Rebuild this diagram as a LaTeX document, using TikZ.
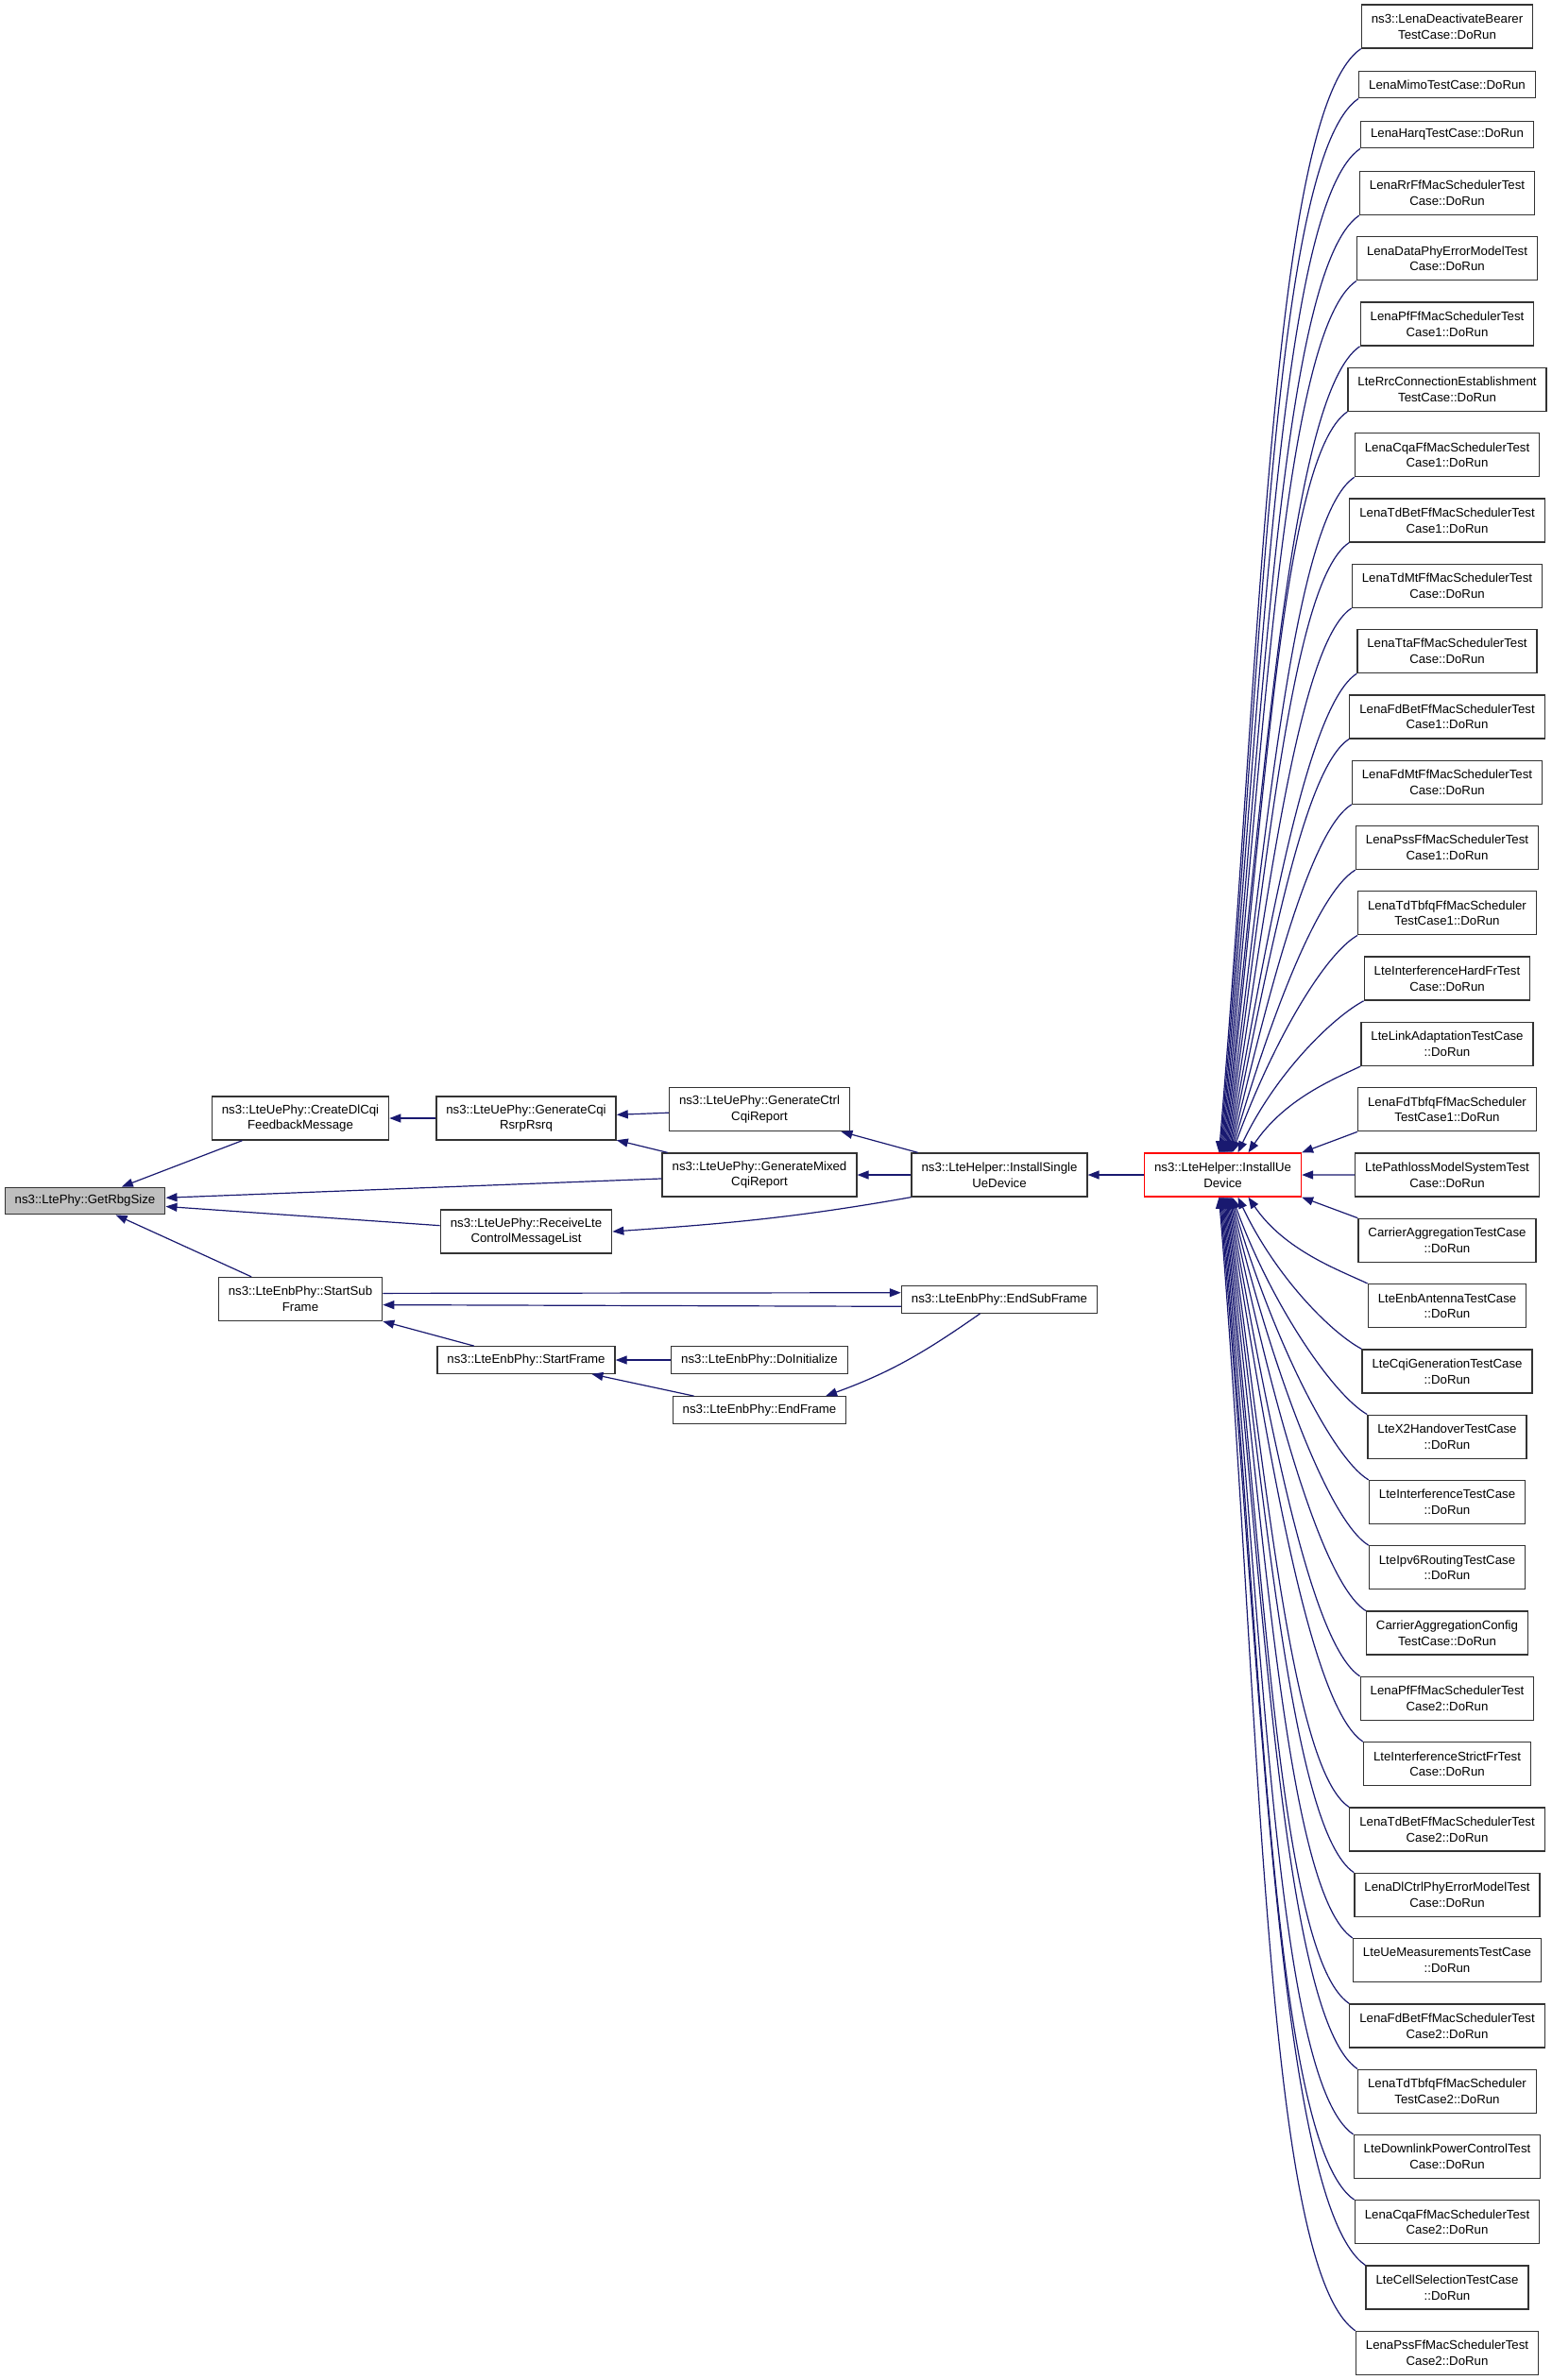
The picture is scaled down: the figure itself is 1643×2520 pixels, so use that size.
\documentclass[tikz,border=0pt]{standalone}
\usepackage{fontspec}
\setmainfont{Liberation Sans}
\usetikzlibrary{arrows.meta}
\definecolor{edgeblue}{HTML}{191970}
\tikzset{
	fn/.style={draw=black!80,line width=1.3pt,fill=white,align=center,inner xsep=10.5pt,inner ysep=2pt,minimum height=46pt,font=\fontsize{13.24pt}{16.7pt}\selectfont},
	fnone/.style={fn,minimum height=28.5pt},
	calls/.style={draw=edgeblue,line width=1.2pt,{Triangle[length=12pt,width=9pt]}-}
}
\begin{document}
\begin{tikzpicture}[x=1pt,y=1pt]
	\useasboundingbox (0,0) rectangle (1643,-2520);
	\node[fnone,fill=black!25] (rbg) at (90,-1271.5) {ns3::LtePhy::GetRbgSize};
	\node[fn] (dlcqi) at (318,-1184) {ns3::LteUePhy::CreateDlCqi\\FeedbackMessage};
	\node[fn] (rsrp) at (557,-1184) {ns3::LteUePhy::GenerateCqi\\RsrpRsrq};
	\node[fn] (recv) at (557,-1304) {ns3::LteUePhy::ReceiveLte\\ControlMessageList};
	\node[fn] (ssub) at (318,-1375.5) {ns3::LteEnbPhy::StartSub\\Frame};
	\node[fnone] (sframe) at (557,-1440) {ns3::LteEnbPhy::StartFrame};
	\node[fn] (ctrl) at (804,-1174.5) {ns3::LteUePhy::GenerateCtrl\\CqiReport};
	\node[fn] (mixed) at (804,-1244) {ns3::LteUePhy::GenerateMixed\\CqiReport};
	\node[fnone] (init) at (804,-1440) {ns3::LteEnbPhy::DoInitialize};
	\node[fnone] (eframe) at (804,-1493) {ns3::LteEnbPhy::EndFrame};
	\node[fn] (single) at (1058,-1244) {ns3::LteHelper::InstallSingle\\UeDevice};
	\node[fnone] (esub) at (1058,-1376) {ns3::LteEnbPhy::EndSubFrame};
	\node[fn,draw=red] (ue) at (1294.5,-1244) {ns3::LteHelper::InstallUe\\Device};

	\foreach \txt [count=\i] in {
		{ns3::LenaDeactivateBearer\\TestCase::DoRun},
		{LenaMimoTestCase::DoRun},
		{LenaHarqTestCase::DoRun},
		{LenaRrFfMacSchedulerTest\\Case::DoRun},
		{LenaDataPhyErrorModelTest\\Case::DoRun},
		{LenaPfFfMacSchedulerTest\\Case1::DoRun},
		{LteRrcConnectionEstablishment\\TestCase::DoRun},
		{LenaCqaFfMacSchedulerTest\\Case1::DoRun},
		{LenaTdBetFfMacSchedulerTest\\Case1::DoRun},
		{LenaTdMtFfMacSchedulerTest\\Case::DoRun},
		{LenaTtaFfMacSchedulerTest\\Case::DoRun},
		{LenaFdBetFfMacSchedulerTest\\Case1::DoRun},
		{LenaFdMtFfMacSchedulerTest\\Case::DoRun},
		{LenaPssFfMacSchedulerTest\\Case1::DoRun},
		{LenaTdTbfqFfMacScheduler\\TestCase1::DoRun},
		{LteInterferenceHardFrTest\\Case::DoRun},
		{LteLinkAdaptationTestCase\\::DoRun},
		{LenaFdTbfqFfMacScheduler\\TestCase1::DoRun},
		{LtePathlossModelSystemTest\\Case::DoRun},
		{CarrierAggregationTestCase\\::DoRun},
		{LteEnbAntennaTestCase\\::DoRun},
		{LteCqiGenerationTestCase\\::DoRun},
		{LteX2HandoverTestCase\\::DoRun},
		{LteInterferenceTestCase\\::DoRun},
		{LteIpv6RoutingTestCase\\::DoRun},
		{CarrierAggregationConfig\\TestCase::DoRun},
		{LenaPfFfMacSchedulerTest\\Case2::DoRun},
		{LteInterferenceStrictFrTest\\Case::DoRun},
		{LenaTdBetFfMacSchedulerTest\\Case2::DoRun},
		{LenaDlCtrlPhyErrorModelTest\\Case::DoRun},
		{LteUeMeasurementsTestCase\\::DoRun},
		{LenaFdBetFfMacSchedulerTest\\Case2::DoRun},
		{LenaTdTbfqFfMacScheduler\\TestCase2::DoRun},
		{LteDownlinkPowerControlTest\\Case::DoRun},
		{LenaCqaFfMacSchedulerTest\\Case2::DoRun},
		{LteCellSelectionTestCase\\::DoRun},
		{LenaPssFfMacSchedulerTest\\Case2::DoRun}}{
		\pgfmathsetmacro\ry{\i==1 ? 28 : (\i==2 ? 89.5 : (\i==3 ? 142.5 : 204.5+(\i-4)*69.3))}
		\pgfmathsetmacro\rh{(\i==2 || \i==3) ? 28.5 : 46}
		\node[fn,minimum height=\rh pt] (t\i) at (1532,-\ry) {\txt};
	}

	\draw[calls] (rbg) -- (dlcqi);
	\draw[calls] (rbg) -- (mixed);
	\draw[calls] (rbg) -- (recv);
	\draw[calls] (rbg) -- (ssub);
	\draw[calls] (dlcqi.east) -- (rsrp.west);
	\draw[calls] (rsrp) -- (ctrl);
	\draw[calls] (rsrp) -- (mixed);
	\draw[calls] (ctrl) -- (single);
	\draw[calls] (mixed.east) -- (single.west);
	\draw[calls] (recv.east) to[out=4,in=190] (single.south west);
	\draw[calls] (single.east) -- (ue.west);
	\draw[calls] (esub.176) -- (ssub.4);
	\draw[calls] (ssub.-4) -- (esub.184);
	\draw[calls] (ssub) -- (sframe);
	\draw[calls] (sframe.east) -- (init.west);
	\draw[calls] (sframe) -- (eframe);
	\draw[calls] (eframe.12) to[out=20,in=215] (esub.216);

	\foreach \i in {1,...,37}{
		\pgfmathsetmacro\ry{\i==1 ? 28 : (\i==2 ? 89.5 : (\i==3 ? 142.5 : 204.5+(\i-4)*69.3))}
		\pgfmathsetmacro\rh{(\i==2 || \i==3) ? 28.5 : 46}
		\pgfmathtruncatemacro\rd{19-\i}
		\pgfmathtruncatemacro\rk{abs(\rd)}
		\pgfmathsetmacro\rsx{\rk==2 ? 27 : (\rk==3 ? 16 : 14-\rk)}
		\pgfmathsetmacro\rgap{abs(\ry-1244)-23-\rh/2}
		\pgfmathsetmacro\rdx{147.5-\rsx}
		\pgfmathsetmacro\rch{atan(\rgap/\rdx)}
		\pgfmathsetmacro\rlen{\rgap/sin(\rch)}
		\pgfmathsetmacro\rout{\rch+0.35*(90-\rch)}
		\pgfmathsetmacro\rph{0.2*\rch+18}
		\pgfmathsetmacro\rod{0.45*\rlen}
		\pgfmathsetmacro\rid{0.08*\rlen+20}
		\pgfmathsetmacro\rax{\rod*cos(\rout)}
		\pgfmathsetmacro\ray{\rod*sin(\rout)}
		\pgfmathsetmacro\rbx{\rid*cos(\rph)}
		\pgfmathsetmacro\rby{\rid*sin(\rph)}
		\ifnum\rk=0
			\draw[calls] (ue.east) -- (t\i.west);
		\else\ifnum\rk=1
			\ifnum\rd>0
				\draw[calls] (ue.north east) -- (t\i.south west);
			\else
				\draw[calls] (ue.south east) -- (t\i.north west);
			\fi
		\else
			\ifnum\rd>0
				\draw[calls] ([xshift=\rsx pt]ue.north) .. controls +(\rax,\ray) and +(-\rbx,-\rby) .. (t\i.south west);
			\else
				\draw[calls] ([xshift=\rsx pt]ue.south) .. controls +(\rax,-\ray) and +(-\rbx,\rby) .. (t\i.north west);
			\fi
		\fi\fi
	}
\end{tikzpicture}
\end{document}
